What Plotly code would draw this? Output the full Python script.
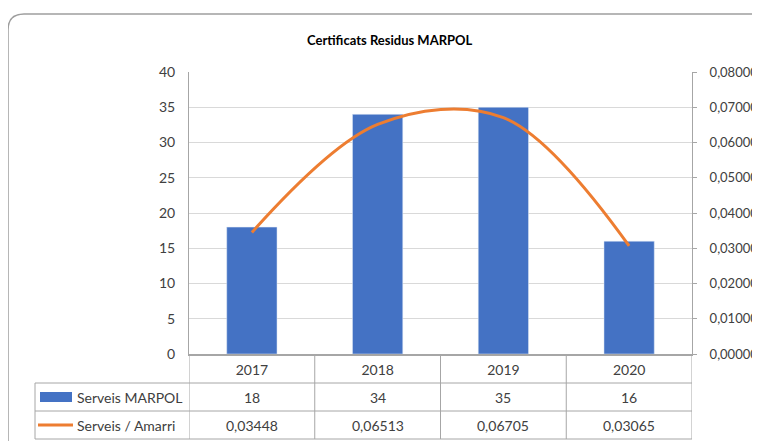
import plotly.graph_objects as go

years = ["2017", "2018", "2019", "2020"]
serveis_marpol = [18, 34, 35, 16]
serveis_amarri = [0.03448, 0.06513, 0.06705, 0.03065]
ratio_labels = ["0,03448", "0,06513", "0,06705", "0,03065"]
series_names = ["Serveis MARPOL", "Serveis / Amarri"]

OFF = 8  # page body margin
W, H = 760 - OFF, 441 - OFF
L, R, T, B = 189, 692, 72, 354  # plot area in screen pixels

def px(x):
    return (x - L) / (R - L)

def py(y):
    return (B - y) / (B - T)

BLUE = "#4472C4"
ORANGE = "#ED7D31"
GRID = "#D9D9D9"
LINE = "#A6A6A6"
TXT = "#404040"
FONT = "Lato"

fig = go.Figure()
fig.add_trace(go.Bar(x=years, y=serveis_marpol, name=series_names[0],
                     marker=dict(color=BLUE), width=0.4))
fig.add_trace(go.Scatter(x=years, y=serveis_amarri, name=series_names[1], yaxis="y2",
                         mode="lines", line=dict(color=ORANGE, width=3, shape="spline", smoothing=1)))

shapes = []
# outer rounded border
r = 16
x0, y0 = 8, 14
path = (f"M {px(x0)},{py(450)} L {px(x0)},{py(y0 + r)} "
        f"Q {px(x0)},{py(y0)} {px(x0 + r)},{py(y0)} L {px(800)},{py(y0)}")
shapes.append(dict(type="path", xref="paper", yref="paper", path=path,
                   line=dict(color="#9E9E9E", width=1.5), layer="below"))

rows_y = [383, 411, 439]
for yy in rows_y:
    shapes.append(dict(type="line", xref="paper", yref="paper",
                       x0=px(35), x1=px(692), y0=py(yy), y1=py(yy),
                       line=dict(color=LINE, width=1)))
# vertical table lines at category boundaries
for i in range(len(years) + 1):
    shapes.append(dict(type="line", xref="x", yref="paper",
                       x0=i - 0.5, x1=i - 0.5, y0=py(354), y1=py(439),
                       line=dict(color=LINE, width=1)))
shapes.append(dict(type="line", xref="paper", yref="paper",
                   x0=px(35), x1=px(35), y0=py(383), y1=py(439),
                   line=dict(color=LINE, width=1)))
# legend keys
shapes.append(dict(type="rect", xref="paper", yref="paper",
                   x0=px(40), x1=px(72), y0=py(392), y1=py(402),
                   fillcolor=BLUE, line=dict(width=0)))
shapes.append(dict(type="line", xref="paper", yref="paper",
                   x0=px(38), x1=px(73), y0=py(425), y1=py(425),
                   line=dict(color=ORANGE, width=3)))

annotations = []
annotations.append(dict(text="<b>Certificats Residus MARPOL</b>", xref="paper", yref="paper",
                        x=px(390), y=py(40), xanchor="center", yanchor="middle", showarrow=False,
                        font=dict(size=13, color="#000000", family=FONT)))
for name, yy in zip(series_names, [397, 425]):
    annotations.append(dict(text=name, xref="paper", yref="paper", x=px(75), y=py(yy),
                            xanchor="left", yanchor="middle", showarrow=False,
                            font=dict(size=14, color=TXT, family=FONT)))
for i, (v, lab) in enumerate(zip(serveis_marpol, ratio_labels)):
    annotations.append(dict(text=str(v), xref="x", yref="paper", x=i, y=py(397),
                            showarrow=False, yanchor="middle",
                            font=dict(size=14, color=TXT, family=FONT)))
    annotations.append(dict(text=lab, xref="x", yref="paper", x=i, y=py(425),
                            showarrow=False, yanchor="middle",
                            font=dict(size=14, color=TXT, family=FONT)))

fig.update_layout(
    width=W, height=H,
    margin=dict(l=L - OFF, r=760 - R, t=T - OFF, b=441 - B, pad=0, autoexpand=False),
    paper_bgcolor="white", plot_bgcolor="white",
    separators=",.",
    showlegend=False,
    font=dict(family=FONT, size=14, color=TXT),
    xaxis=dict(type="category", range=[-0.5, 3.5], autorange=False, automargin=False,
               showline=True, linecolor=LINE, linewidth=1.5,
               showgrid=False, ticks="", tickfont=dict(size=14, color=TXT),
               ticklabelstandoff=2),
    yaxis=dict(range=[0, 40], dtick=5, showline=True, linecolor=LINE, linewidth=1,
               gridcolor=GRID, gridwidth=1, ticks="", zeroline=False, automargin=False,
               tickfont=dict(size=14, color=TXT), ticklabelstandoff=10),
    yaxis2=dict(range=[0, 0.08], dtick=0.01, tickformat=".5f", overlaying="y", side="right",
                showline=True, linecolor=LINE, linewidth=1, showgrid=False, zeroline=False,
                ticks="outside", ticklen=4, tickcolor=LINE, automargin=False,
                tickfont=dict(size=13, color=TXT), ticklabelstandoff=10),
    shapes=shapes, annotations=annotations,
)

fig.write_html("out.html")
